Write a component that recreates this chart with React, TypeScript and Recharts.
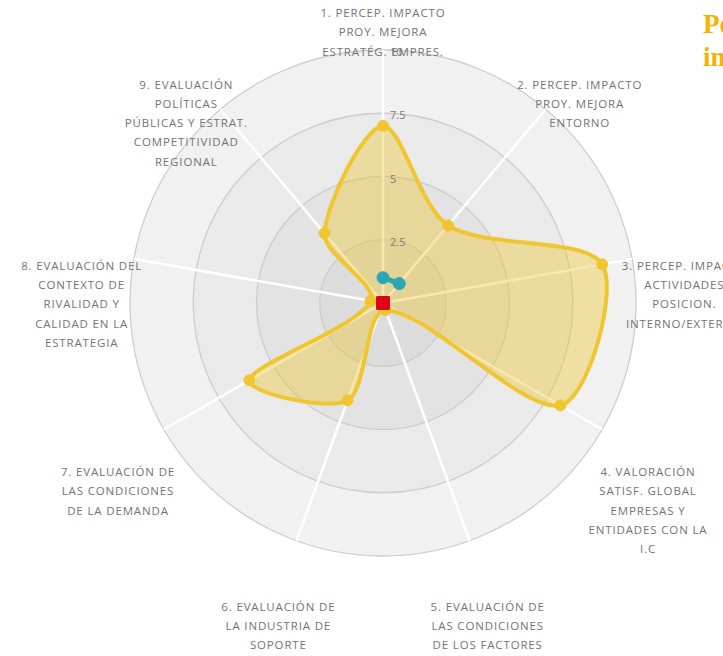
import React from "react";
import { RadarChart, Radar, PolarGrid, PolarAngleAxis, PolarRadiusAxis } from "recharts";

// axis labels, one per spoke (line breaks as in the picture)
const categories = [
  "1. PERCEP. IMPACTO\nPROY. MEJORA\nESTRATÉG. EMPRES.",
  "2. PERCEP. IMPACTO\nPROY. MEJORA\nENTORNO",
  "3. PERCEP. IMPACTO\nACTIVIDADES\nPOSICION.\nINTERNO/EXTERNO",
  "4. VALORACIÓN\nSATISF. GLOBAL\nEMPRESAS Y\nENTIDADES CON LA\nI.C",
  "5. EVALUACIÓN DE\nLAS CONDICIONES\nDE LOS FACTORES",
  "6. EVALUACIÓN DE\nLA INDUSTRIA DE\nSOPORTE",
  "7. EVALUACIÓN DE\nLAS CONDICIONES\nDE LA DEMANDA",
  "8. EVALUACIÓN DEL\nCONTEXTO DE\nRIVALIDAD Y\nCALIDAD EN LA\nESTRATEGIA",
  "9. EVALUACIÓN\nPOLÍTICAS\nPÚBLICAS Y ESTRAT.\nCOMPETITIVIDAD\nREGIONAL",
];

const valoracion = [7.0, 4.0, 8.8, 8.1, 0.3, 4.1, 6.1, 0.5, 3.6];
const referencia: (number | null)[] = [1.0, 1.0, null, null, null, null, null, null, null];
const minimo = [0, 0, 0, 0, 0, 0, 0, 0, 0];

const radiusTicks = [0, 2.5, 5, 7.5, 10];
const bandColors = ["#dcdcdc", "#e3e3e3", "#eaeaea", "#f1f1f1"];

const data = categories.map((c, i) => ({
  category: c,
  valoracion: valoracion[i],
  referencia: referencia[i],
  minimo: minimo[i],
}));

const W = 723;
const H = 656;
const CX = 383;
const CY = 303;
const OUTER_R = 253;
const MAX = 10;
const LABEL_R = 306;

const YELLOW = "#f0c630";
const TEAL = "#2aa7b6";
const RED = "#e10019";

type Pt = { x: number; y: number; payload?: any };

// closed spline through the radar points (Chart.js style tension)
function splinePath(pts: Pt[], t = 0.3) {
  const n = pts.length;
  const cps = pts.map((p, i) => {
    const prev = pts[(i - 1 + n) % n];
    const next = pts[(i + 1) % n];
    const d01 = Math.hypot(p.x - prev.x, p.y - prev.y);
    const d12 = Math.hypot(next.x - p.x, next.y - p.y);
    const sum = d01 + d12 || 1;
    const fa = (t * d01) / sum;
    const fb = (t * d12) / sum;
    return {
      a: { x: p.x - fa * (next.x - prev.x), y: p.y - fa * (next.y - prev.y) },
      b: { x: p.x + fb * (next.x - prev.x), y: p.y + fb * (next.y - prev.y) },
    };
  });
  let d = `M${pts[0].x},${pts[0].y}`;
  for (let i = 0; i < n; i++) {
    const j = (i + 1) % n;
    d += ` C${cps[i].b.x},${cps[i].b.y} ${cps[j].a.x},${cps[j].a.y} ${pts[j].x},${pts[j].y}`;
  }
  return d + "Z";
}

const YellowShape = (props: any) => {
  const pts: Pt[] = props.points || [];
  if (!pts.length) return null;
  return (
    <path
      d={splinePath(pts)}
      fill={YELLOW}
      fillOpacity={0.4}
      stroke={YELLOW}
      strokeWidth={4}
      strokeLinejoin="round"
    />
  );
};

// only join neighbouring points that both have a value
const TealShape = (props: any) => {
  const pts: Pt[] = props.points || [];
  const segs: string[] = [];
  for (let i = 0; i < pts.length - 1; i++) {
    const a = pts[i];
    const b = pts[i + 1];
    if (a.payload?.referencia == null || b.payload?.referencia == null) continue;
    segs.push(`M${a.x},${a.y} L${b.x},${b.y}`);
  }
  return <path d={segs.join(" ")} fill="none" stroke={TEAL} strokeWidth={5} strokeLinecap="round" />;
};

const TealDot = (props: any) => {
  const { cx, cy, payload, index } = props;
  if (payload?.referencia == null || !isFinite(cx) || !isFinite(cy)) return <g key={`td${index}`} />;
  return <circle key={`td${index}`} cx={cx} cy={cy} r={6} fill={TEAL} stroke={TEAL} strokeWidth={1} />;
};

const RedDot = (props: any) => {
  const { cx, cy, index } = props;
  return <rect key={`rd${index}`} x={cx - 7} y={cy - 7} width={14} height={14} rx={3} fill={RED} />;
};

const AngleLabel = (props: any) => {
  const { payload } = props;
  const rad = (payload.coordinate * Math.PI) / 180;
  const x = CX + LABEL_R * Math.cos(rad);
  const y = CY - LABEL_R * Math.sin(rad) + 20;
  const lines = String(payload.value).split("\n");
  return (
    <text
      x={x}
      y={y}
      textAnchor="middle"
      fill="#747474"
      fontSize={11.5}
      fontFamily="'Open Sans', sans-serif"
      letterSpacing={0.85}
    >
      {lines.map((l, i) => (
        <tspan key={i} x={x} dy={i === 0 ? 0 : 19.3}>
          {l}
        </tspan>
      ))}
    </text>
  );
};

const RadiusLabel = (props: any) => {
  const { x, y, payload } = props;
  if (payload.value === 0) return <g />;
  return (
    <text x={x + 7} y={y + 6} textAnchor="start" fill="#7a7a7a" fontSize={11} fontFamily="'Open Sans', sans-serif">
      {payload.value}
    </text>
  );
};

export default function App() {
  const rings = radiusTicks.slice(1).map((v) => (v / MAX) * OUTER_R);
  return (
    <div style={{ position: "fixed", left: 0, top: 0, width: W, height: H, overflow: "hidden", background: "#fff" }}>
      <svg width={W} height={H} style={{ position: "absolute", left: 0, top: 0 }}>
        {rings
          .map((r, i) => (
            <circle key={i} cx={CX} cy={CY} r={r} fill={bandColors[i]} stroke="#cdcdcd" strokeWidth={1.3} />
          ))
          .reverse()}
      </svg>
      <div style={{ position: "absolute", left: 0, top: 0 }}>
        <RadarChart width={W} height={H} data={data} cx={CX} cy={CY} outerRadius={OUTER_R} margin={{ top: 0, right: 0, bottom: 0, left: 0 }}>
          <PolarGrid gridType="circle" polarRadius={[0]} stroke="#ffffff" strokeWidth={2.5} />
          <PolarAngleAxis dataKey="category" tick={AngleLabel} tickLine={false} axisLine={false} />
          <PolarRadiusAxis
            angle={90}
            domain={[0, MAX]}
            ticks={radiusTicks}
            tick={RadiusLabel}
            tickLine={false}
            axisLine={false}
          />
          <Radar
            name="Valoración"
            dataKey="valoracion"
            shape={YellowShape}
            dot={{ r: 5.5, fill: YELLOW, stroke: YELLOW }}
            isAnimationActive={false}
          />
          <Radar name="Referencia" dataKey="referencia" shape={TealShape} dot={TealDot} isAnimationActive={false} />
          <Radar name="Mínimo" dataKey="minimo" fill="none" stroke="none" dot={RedDot} isAnimationActive={false} />
        </RadarChart>
      </div>
      <div
        style={{
          position: "absolute",
          left: 703,
          top: 8,
          fontFamily: "'Liberation Serif', serif",
          fontWeight: 700,
          fontSize: 27,
          lineHeight: "33px",
          color: "#f5b300",
          whiteSpace: "nowrap",
        }}
      >
        Posición
        <br />
        indicadores
      </div>
    </div>
  );
}
